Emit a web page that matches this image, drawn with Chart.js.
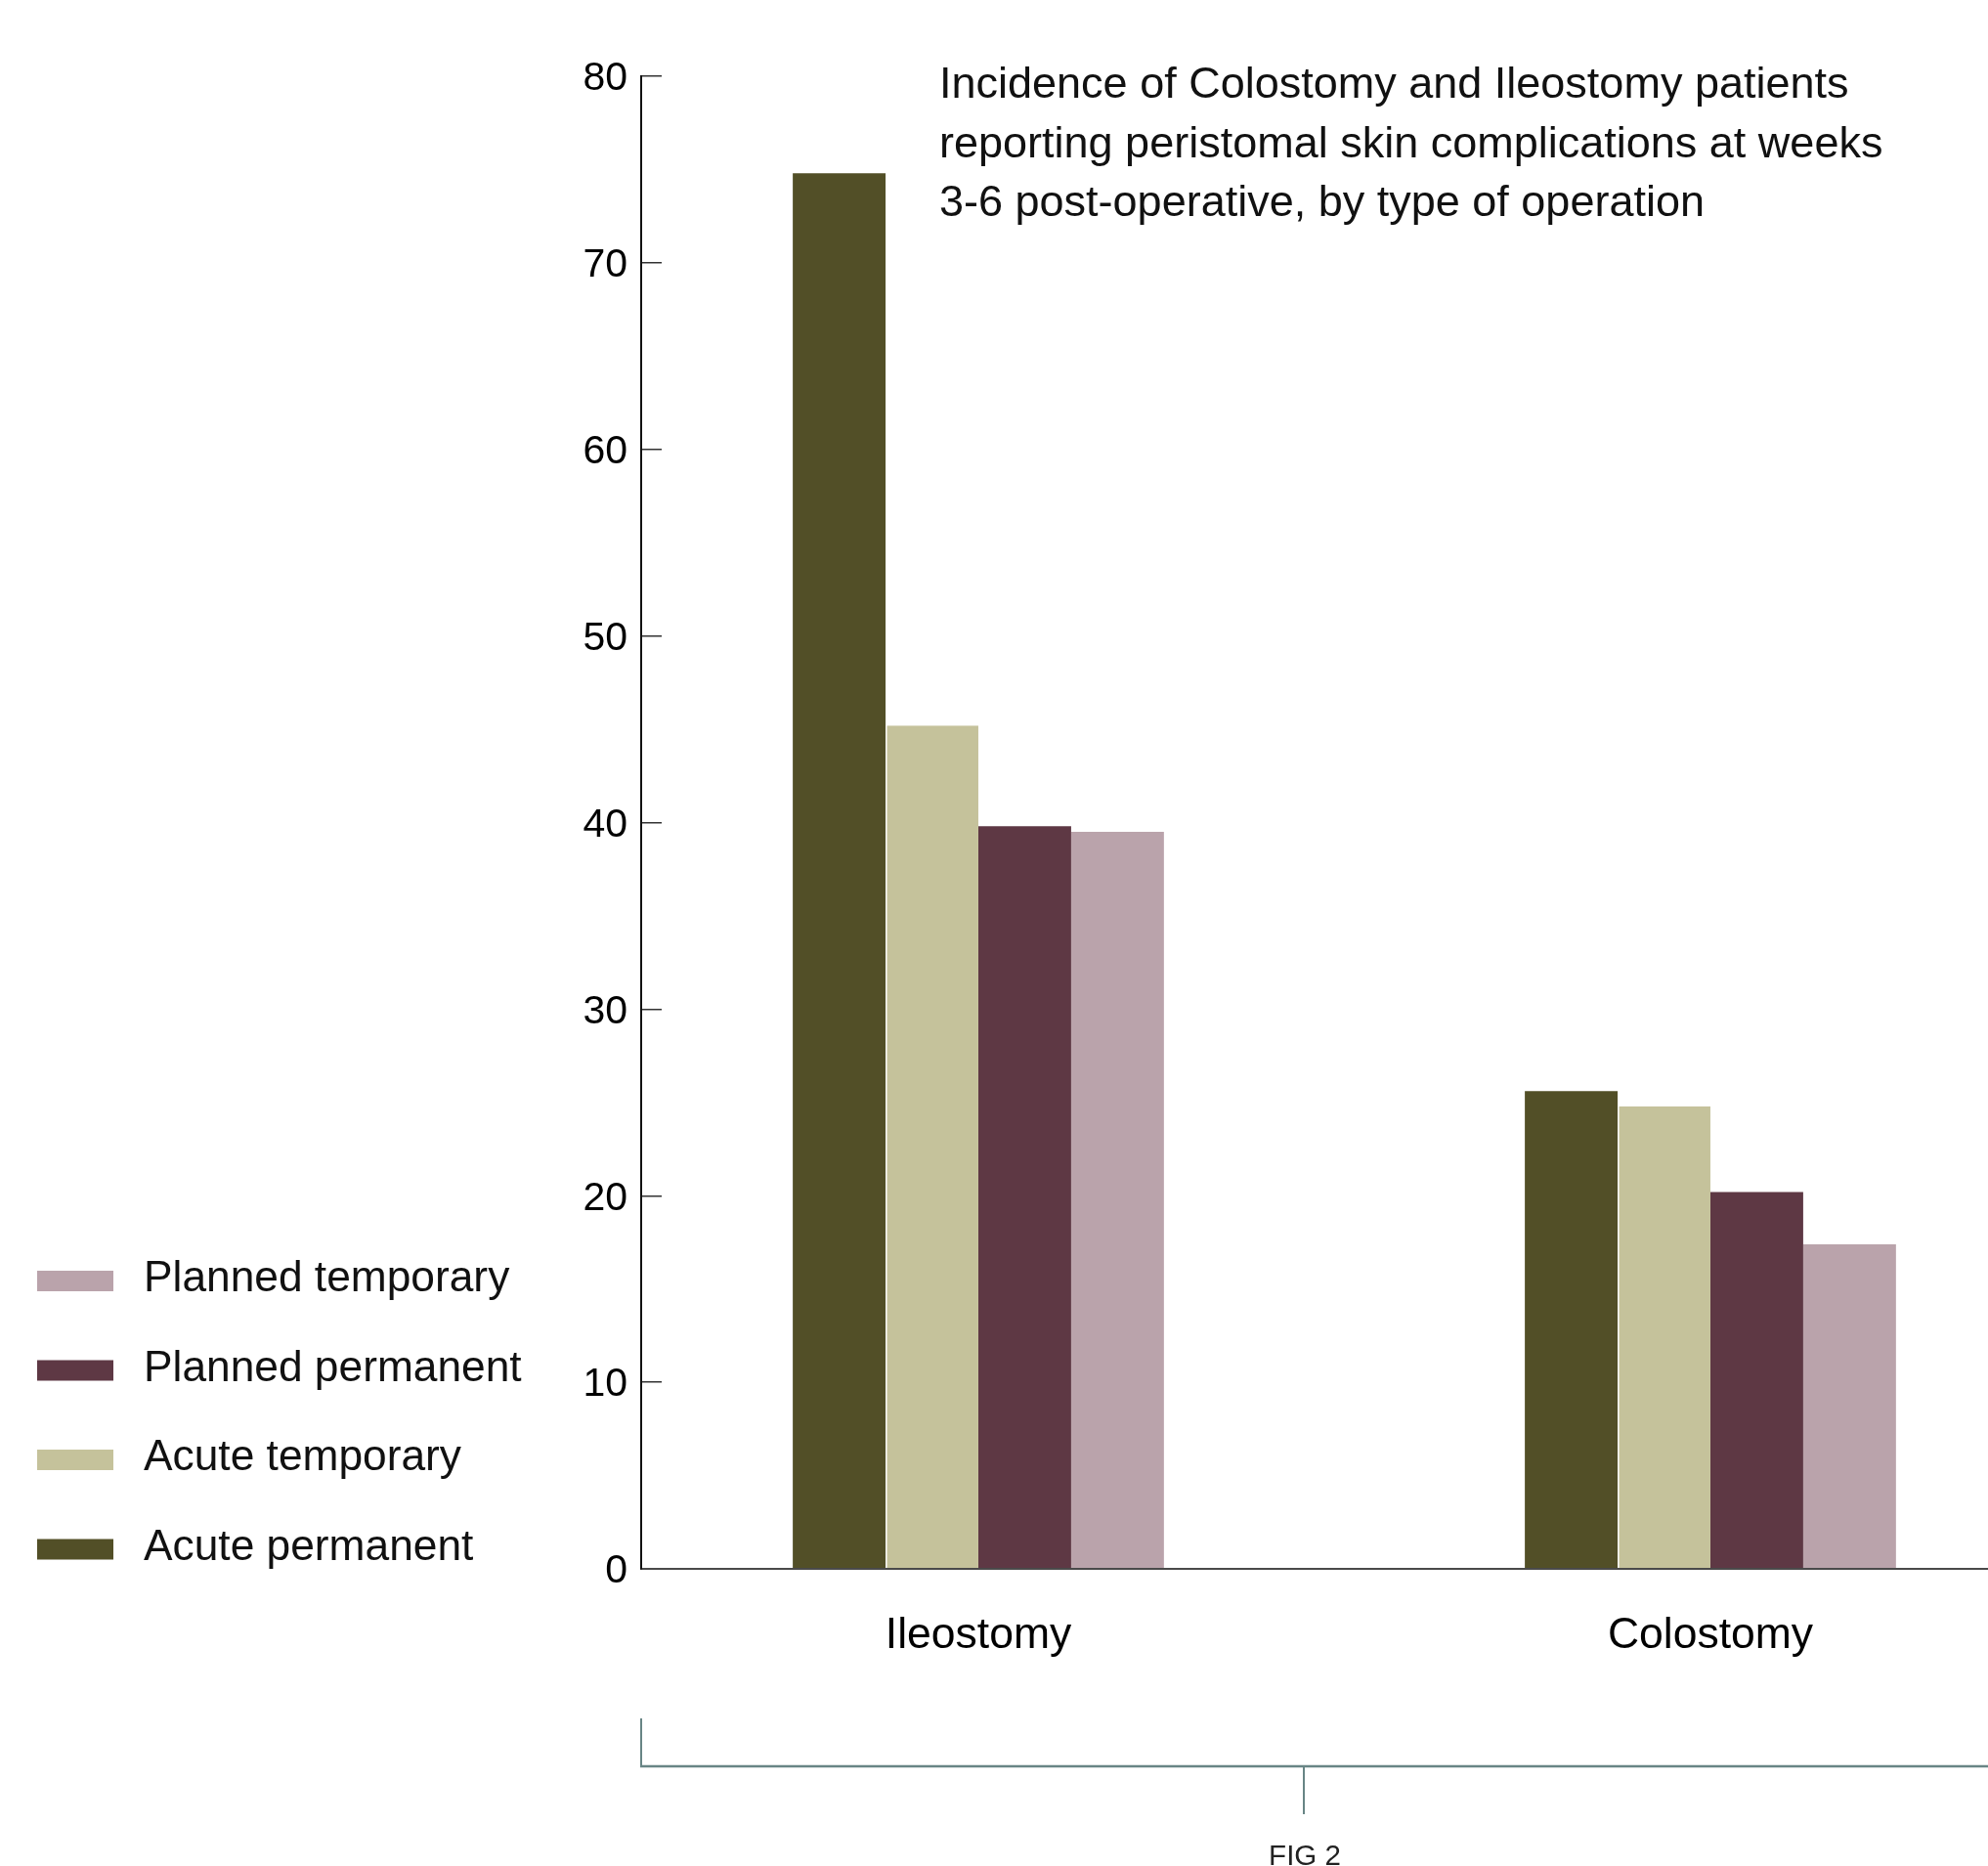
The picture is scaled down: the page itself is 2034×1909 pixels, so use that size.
<!DOCTYPE html>
<html>
<head>
<meta charset="utf-8">
<script src="https://cdn.jsdelivr.net/npm/chart.js@4.4.1/dist/chart.umd.min.js"></script>
<style>
  html, body { margin: 0; padding: 0; background: #ffffff; }
  canvas { display: block; }
</style>
</head>
<body>
<canvas id="chart" width="2034" height="1909"></canvas>
<script>
// ---- data ----
const categories = ['Ileostomy', 'Colostomy'];
const seriesNames = ['Acute permanent', 'Acute temporary', 'Planned permanent', 'Planned temporary'];
const acutePermanent = [74.8, 25.6];
const acuteTemporary = [45.2, 24.8];
const plannedPermanent = [39.8, 20.2];
const plannedTemporary = [39.5, 17.4];
const yTicks = [0, 10, 20, 30, 40, 50, 60, 70, 80];
const titleLines = [
  'Incidence of Colostomy and Ileostomy patients',
  'reporting peristomal skin complications at weeks',
  '3-6 post-operative, by type of operation'
];
const figLabel = 'FIG 2';

// ---- styles ----
const seriesColors = ['#524f27', '#c5c29b', '#5e3844', '#baa3ab'];
const bracketColor = '#688585';
const FAMILY = '"Liberation Sans", Arial, sans-serif';
const size = { title: 45, legend: 44.3, category: 44.5, tick: 41, fig: 29.5 };

const seriesValues = [acutePermanent, acuteTemporary, plannedPermanent, plannedTemporary];
const datasets = seriesValues.map((values, i) => ({
  label: seriesNames[i],
  data: values,
  backgroundColor: seriesColors[i],
  borderWidth: 0,
  barPercentage: 1,
  categoryPercentage: 0.507
}));
// thin white seam between the first two bars of each group
datasets[1].borderWidth = { left: 1.5, top: 0, right: 0, bottom: 0 };
datasets[1].borderColor = '#ffffff';

// title, legend and figure bracket drawn on the canvas
const decorations = {
  id: 'decorations',
  afterDraw(chart) {
    const ctx = chart.ctx;
    const ca = chart.chartArea;
    ctx.save();

    // title block
    ctx.fillStyle = '#111111';
    ctx.textAlign = 'left';
    ctx.textBaseline = 'alphabetic';
    ctx.font = size.title + 'px ' + FAMILY;
    titleLines.forEach((line, i) => ctx.fillText(line, 961, 100 + i * 60.5));

    // legend (reverse dataset order, top to bottom)
    ctx.font = size.legend + 'px ' + FAMILY;
    const order = chart.data.datasets.map((d, i) => i).reverse();
    order.forEach((di, row) => {
      const ds = chart.data.datasets[di];
      const base = 1321 + row * 91.5;
      ctx.fillStyle = ds.backgroundColor;
      ctx.fillRect(38, base - 21, 78, 21);
      ctx.fillStyle = '#111111';
      ctx.fillText(ds.label, 147, base);
    });

    // figure bracket
    ctx.strokeStyle = bracketColor;
    ctx.lineCap = 'butt';
    ctx.lineWidth = 2;
    ctx.beginPath();
    ctx.moveTo(ca.left, ca.bottom + 153);
    ctx.lineTo(ca.left, ca.bottom + 203);
    ctx.stroke();
    ctx.lineWidth = 2.5;
    ctx.beginPath();
    ctx.moveTo(ca.left - 1, ca.bottom + 202);
    ctx.lineTo(chart.width, ca.bottom + 202);
    ctx.stroke();
    ctx.lineWidth = 2;
    ctx.beginPath();
    ctx.moveTo(1334, ca.bottom + 202);
    ctx.lineTo(1334, ca.bottom + 251);
    ctx.stroke();

    ctx.fillStyle = '#222222';
    ctx.textAlign = 'center';
    ctx.font = size.fig + 'px ' + FAMILY;
    ctx.fillText(figLabel, 1335, 1908);
    ctx.restore();
  }
};

new Chart(document.getElementById('chart'), {
  type: 'bar',
  data: {
    labels: categories.map((c, i) => i),
    datasets: datasets
  },
  options: {
    responsive: false,
    devicePixelRatio: 1,
    animation: false,
    layout: { padding: { top: 78, left: 0, right: 0, bottom: 0 } },
    plugins: {
      legend: { display: false },
      title: { display: false },
      tooltip: { enabled: false }
    },
    scales: {
      x: {
        type: 'linear',
        offset: false,
        min: -0.4606,
        max: 1.3792,
        afterBuildTicks: (s) => { s.ticks = categories.map((c, i) => ({ value: i })); },
        afterFit: (s) => { s.height = 304; },
        grid: { display: false, drawTicks: false },
        border: { display: true, color: '#4a4a4a', width: 2, z: 1 },
        ticks: {
          autoSkip: false,
          maxRotation: 0,
          padding: 84 - 0.9465 * size.category,
          color: '#000000',
          font: { family: FAMILY, size: size.category },
          callback: (v) => categories[v] ?? ''
        }
      },
      y: {
        min: 0,
        max: 80,
        afterBuildTicks: (s) => { s.ticks = yTicks.map((v) => ({ value: v })); },
        afterFit: (s) => { s.width = 656; },
        grid: { display: true, drawOnChartArea: false, drawTicks: true, tickLength: -21, color: '#333333', lineWidth: 1.5 },
        border: { display: true, color: '#111111', width: 2, z: 1 },
        ticks: {
          autoSkip: false,
          padding: 35,
          labelOffset: 3,
          color: '#000000',
          font: { family: FAMILY, size: size.tick }
        }
      }
    }
  },
  plugins: [decorations]
});
</script>
</body>
</html>
